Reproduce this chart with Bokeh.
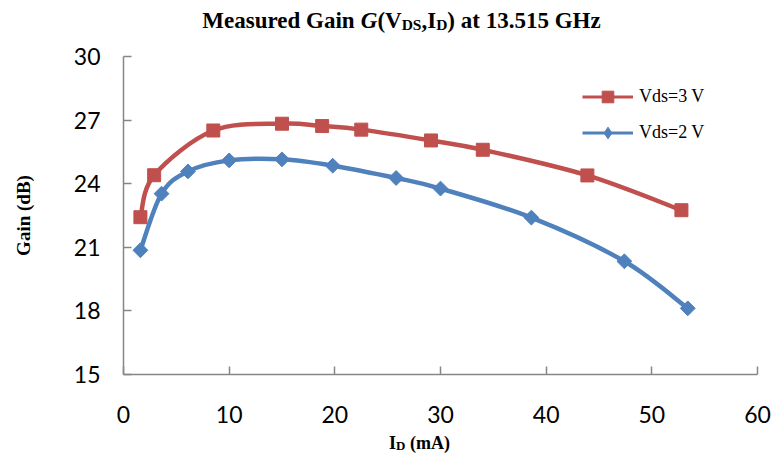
import numpy as np
from bokeh.plotting import figure
from bokeh.layouts import column
from bokeh.models import Range1d, Legend, LegendItem, ColumnDataSource
from bokeh.core.properties import value
from bokeh.embed import file_html
from bokeh.resources import INLINE

# ---------------- data ----------------
id_vds3 = [1.6, 2.9, 8.5, 15.0, 18.8, 22.5, 29.1, 34.0, 43.9, 52.8]
gain_vds3 = [22.42, 24.40, 26.51, 26.83, 26.72, 26.55, 26.04, 25.60, 24.39, 22.75]

id_vds2 = [1.6, 3.6, 6.1, 10.0, 15.0, 19.8, 25.8, 30.0, 38.6, 47.4, 53.4]
gain_vds2 = [20.86, 23.53, 24.58, 25.10, 25.15, 24.85, 24.27, 23.77, 22.40, 20.34, 18.12]

x_ticks = [0, 10, 20, 30, 40, 50, 60]
y_ticks = [15, 18, 21, 24, 27, 30]

series_labels = ["Vds=3 V", "Vds=2 V"]

RED = "#C0504D"
BLUE = "#4F81BD"
AXIS = "#868686"
W = 771
BL, BR = 123, 14          # left / right borders shared by all stacked figures


def smooth_segments(xs, ys):
    """Bezier control points for an Excel-like smoothed line through the data."""
    x = np.asarray(xs, float)
    y = np.asarray(ys, float)
    n = len(x)
    px = np.concatenate([[x[0]], x, [x[-1]]])
    py = np.concatenate([[y[0]], y, [y[-1]]])
    d = dict(x0=[], y0=[], x1=[], y1=[], cx0=[], cy0=[], cx1=[], cy1=[])
    for i in range(n - 1):
        p0 = (px[i], py[i]); p1 = (px[i + 1], py[i + 1])
        p2 = (px[i + 2], py[i + 2]); p3 = (px[i + 3], py[i + 3])
        d["x0"].append(p1[0]); d["y0"].append(p1[1])
        d["x1"].append(p2[0]); d["y1"].append(p2[1])
        d["cx0"].append(p1[0] + (p2[0] - p0[0]) / 6.0)
        d["cy0"].append(p1[1] + (p2[1] - p0[1]) / 6.0)
        d["cx1"].append(p2[0] - (p3[0] - p1[0]) / 6.0)
        d["cy1"].append(p2[1] - (p3[1] - p1[1]) / 6.0)
    return ColumnDataSource(d)


# ---------------- rich text helpers (Times metrics) ----------------
TB = {' ': 250, '(': 333, ')': 333, ',': 250, '.': 250, '1': 500, '3': 500,
      '5': 500, 'A': 722, 'D': 722, 'G': 778, 'H': 778, 'I': 389, 'M': 944,
      'S': 556, 'V': 722, 'a': 500, 'd': 556, 'e': 444, 'i': 278, 'm': 833,
      'n': 556, 'r': 444, 's': 389, 't': 333, 'u': 556, 'z': 444}


def tw(s, px, style):
    if style == "bold italic" and s == "G":
        return 722 * px / 1000.0
    return sum(TB[c] for c in s) * px / 1000.0


def text_strip(height, pieces, x_center, baseline_from_top):
    # frame spans the same horizontal pixels as the main plot frame;
    # the x range is expressed in page pixels so x data == page x
    f = figure(width=W, height=height, output_backend="svg", toolbar_location=None,
               x_range=Range1d(BL, W - BR), y_range=Range1d(0, height),
               x_axis_location=None, y_axis_location=None, title=None,
               min_border_left=BL, min_border_right=BR,
               min_border_top=0, min_border_bottom=0)
    f.outline_line_color = None
    f.xgrid.visible = False
    f.ygrid.visible = False
    f.background_fill_color = "white"
    f.border_fill_color = "white"
    total = sum(tw(t, s, st) + extra for t, s, st, dy, extra in pieces)
    x = x_center - total / 2.0
    for t, s, st, dy, extra in pieces:
        x += extra
        f.text(x=[x], y=[height - baseline_from_top + dy], text=[t],
               text_font=value("Liberation Serif"), text_font_style=st,
               text_font_size=value(f"{s}px"), text_color="black",
               text_align="left", text_baseline="alphabetic")
        x += tw(t, s, st)
    return f


TITLE_H = 36
XLAB_H = 29
MAIN_H = 459 - TITLE_H - XLAB_H

title_pieces = [("Measured Gain ", 23, "bold", 0, 0),
                ("G", 23, "bold italic", 0, 0),
                ("(V", 23, "bold", 0, 0),
                ("DS", 15.5, "bold", -4, 0),
                (",I", 23, "bold", 0, 0),
                ("D", 15.5, "bold", -4, 0),
                (") at 13.515 GHz", 23, "bold", 0, 0)]
title_fig = text_strip(TITLE_H, title_pieces, 401, 20)

# ---------------- main plot ----------------
p = figure(width=W, height=MAIN_H, output_backend="svg", toolbar_location=None,
           x_range=Range1d(0, 60), y_range=Range1d(15, 30),
           min_border_left=BL, min_border_right=BR, min_border_top=56 - TITLE_H,
           min_border_bottom=MAIN_H - (374 - TITLE_H), title=None)
p.outline_line_color = None
p.xgrid.visible = False
p.ygrid.visible = False
p.background_fill_color = "white"
p.border_fill_color = "white"

p.xaxis.ticker = x_ticks
p.yaxis.ticker = y_ticks
for ax in (p.xaxis[0], p.yaxis[0]):
    ax.axis_line_color = AXIS
    ax.axis_line_width = 1.5
    ax.major_tick_line_color = AXIS
    ax.major_tick_line_width = 1.5
    ax.major_tick_in = 8
    ax.major_tick_out = 0
    ax.minor_tick_line_color = None
    ax.major_label_text_font = "Lato"
    ax.major_label_text_font_size = "23px"
    ax.major_label_text_color = "black"
p.xaxis.major_label_standoff = 31
p.yaxis.major_label_standoff = 23

p.yaxis.axis_label = "Gain (dB)"
p.yaxis.axis_label_text_font = "Liberation Serif"
p.yaxis.axis_label_text_font_style = "bold"
p.yaxis.axis_label_text_font_size = "19px"
p.yaxis.axis_label_text_color = "black"
p.yaxis.axis_label_standoff = 37

src3 = smooth_segments(id_vds3, gain_vds3)
src2 = smooth_segments(id_vds2, gain_vds2)

# legend-key renderers: one point each, so nothing visible is drawn in the plot
k3_line = p.line(x=id_vds3[:1], y=gain_vds3[:1], line_color=RED, line_width=3)
k2_line = p.line(x=id_vds2[:1], y=gain_vds2[:1], line_color=BLUE, line_width=3)
k2_mark = p.scatter(x=id_vds2[:1], y=gain_vds2[:1], marker="diamond", size=0.1,
                    fill_color=BLUE, line_color=BLUE)

l3 = p.bezier(x0="x0", y0="y0", x1="x1", y1="y1", cx0="cx0", cy0="cy0",
              cx1="cx1", cy1="cy1", source=src3, line_color=RED, line_width=4.5)
m3 = p.scatter(id_vds3, gain_vds3, marker="square", size=13,
               fill_color=RED, line_color=RED)
l2 = p.bezier(x0="x0", y0="y0", x1="x1", y1="y1", cx0="cx0", cy0="cy0",
              cx1="cx1", cy1="cy1", source=src2, line_color=BLUE, line_width=4.5)
m2 = p.scatter(id_vds2, gain_vds2, marker="square", angle=np.pi / 4, size=10.5,
               fill_color=BLUE, line_color=BLUE)

legend = Legend(items=[LegendItem(label=series_labels[0], renderers=[k3_line, m3]),
                       LegendItem(label=series_labels[1], renderers=[k2_line, k2_mark])],
                location=(459, 227), orientation="vertical",
                glyph_width=51, glyph_height=29, label_height=29,
                label_standoff=6, spacing=7, padding=0, margin=0,
                border_line_color=None, background_fill_alpha=0,
                label_text_font="Liberation Serif", label_text_font_size="18px",
                label_text_color="black")
p.add_layout(legend)

# ---------------- x-axis label strip ----------------
xlabel_pieces = [("I", 18, "bold", 0, 0),
                 ("D", 13, "bold", -3, 0),
                 ("(mA)", 18, "bold", 0, 250 * 18 / 1000.0)]
xlabel_fig = text_strip(XLAB_H, xlabel_pieces, 419, 12)

layout = column(title_fig, p, xlabel_fig, spacing=0)
open("out.html", "w").write(file_html(layout, INLINE))
